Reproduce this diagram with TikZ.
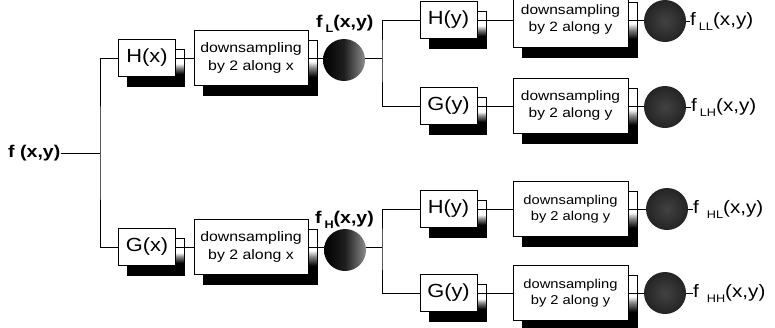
\documentclass[tikz,border=0pt]{standalone}
\usepackage{fontspec}
\setmainfont[FakeStretch=1.15]{Liberation Sans}
\usetikzlibrary{shadows}

% drop shadow: white on top, fading to black at the bottom
\pgfdeclareverticalshading{shadowfade}{100bp}{color(0bp)=(black); color(42bp)=(black); color(50bp)=(black!50); color(56bp)=(white); color(100bp)=(white)}

\newcommand\lowidx[1]{\raisebox{-0.32em}{\fontsize{11}{11}\selectfont #1}}

\tikzset{
  wire/.style={line width=0.8pt},
  block/.style={draw, line width=0.8pt, fill=white, inner sep=0pt, align=center,
    general shadow={shadow xshift=9pt, shadow yshift=-10pt, draw=black,
      line width=0.6pt, shade, shading=shadowfade}},
  filt/.style={block, minimum width=57pt, minimum height=37pt,
    font=\fontsize{19}{19}\selectfont},
  dsx/.style={block, minimum width=114pt, minimum height=55pt,
    font=\fontsize{13.8}{18}\selectfont},
  dsy/.style={block, minimum width=115pt, minimum height=55pt,
    font=\fontsize{13.5}{17}\selectfont},
  dsyb/.style={dsy, font=\fontsize{12.8}{16.5}\selectfont},
  lball/.style={circle, minimum size=42pt, inner sep=0pt,
    left color=black, right color=black!45, middle color=black!88},
  rball/.style={circle, minimum size=42pt, inner sep=0pt,
    inner color=black!74, outer color=black!86},
  flab/.style={inner sep=0pt, font=\fontsize{17}{17}\selectfont\bfseries},
  olab/.style={inner sep=0pt, font=\fontsize{18}{18}\selectfont},
}

\begin{document}
\begin{tikzpicture}[x=1pt,y=-1pt]
\useasboundingbox (0,0) rectangle (775,327);
\clip (0,0) rectangle (775,327);

% input
\node[flab, anchor=base west] (fin) at (8,157) {f (x,y)};
\coordinate (split) at (100,153);

% first stage: filtering along x
\node[filt] (Hx) at (147,58) {H(x)};
\node[filt] (Gx) at (147,247) {G(x)};
\node[dsx] (Dx1) at (251,58) {downsampling\\by 2 along x};
\node[dsx] (Dx2) at (251,247) {downsampling\\by 2 along x};
\node[lball] (cL) at (344,60) {};
\node[lball] (cH) at (345,250) {};
\node[flab, anchor=base west] (labL) at (316,27) {f\,\lowidx{L}(x,y)};
\node[flab, anchor=base west] (labH) at (315,223) {f\,\lowidx{H}(x,y)};
\coordinate (jL) at (382,58);
\coordinate (jH) at (382,247);

% second stage: filtering along y
\node[filt] (Hy1) at (448.5,20) {H(y)};
\node[filt] (Gy1) at (448.5,106) {G(y)};
\node[filt] (Hy2) at (448.5,209) {H(y)};
\node[filt] (Gy2) at (448.5,293) {G(y)};
\node[dsy] (Dy1) at (570.5,20) {downsampling\\by 2 along y};
\node[dsy] (Dy2) at (570.5,106) {downsampling\\by 2 along y};
\node[dsyb] (Dy3) at (570.5,209) {downsampling\\by 2 along y};
\node[dsyb] (Dy4) at (570.5,293) {downsampling\\by 2 along y};
\node[rball] (cLL) at (665,21) {};
\node[rball] (cLH) at (665,107) {};
\node[rball] (cHL) at (667,209) {};
\node[rball] (cHH) at (665,293) {};
\node[olab, anchor=base west] (labLL) at (690,25) {f\hspace{3pt}\lowidx{LL}(x,y)};
\node[olab, anchor=base west] (labLH) at (691,111) {f\hspace{3pt}\lowidx{LH}(x,y)};
\node[olab, anchor=base west] (labHL) at (693,213) {f\hspace{8pt}\lowidx{HL}(x,y)};
\node[olab, anchor=base west] (labHH) at (693,297) {f\hspace{8pt}\lowidx{HH}(x,y)};

% connectors
\draw[wire] (split -| fin.east) -- (split);
\draw[wire] (Hx.west) -| (split) |- (Gx.west);
\draw[wire] (Hx.east) -- (Dx1.west);
\draw[wire] (Gx.east) -- (Dx2.west);
\draw[wire] (Dx1.east) -- (Dx1.east -| cL.west);
\draw[wire] (Dx2.east) -- (Dx2.east -| cH.west);
\draw[wire] (cL.east |- jL) -- (jL);
\draw[wire] (cH.east |- jH) -- (jH);
\draw[wire] (Hy1.west) -| (jL) |- (Gy1.west);
\draw[wire] (Hy2.west) -| (jH) |- (Gy2.west);
\draw[wire] (Hy1.east) -- (Dy1.west);
\draw[wire] (Gy1.east) -- (Dy2.west);
\draw[wire] (Hy2.east) -- (Dy3.west);
\draw[wire] (Gy2.east) -- (Dy4.west);
\draw[wire] (Dy1.east) -- (Dy1.east -| cLL.west);
\draw[wire] (Dy2.east) -- (Dy2.east -| cLH.west);
\draw[wire] (Dy3.east) -- (Dy3.east -| cHL.west);
\draw[wire] (Dy4.east) -- (Dy4.east -| cHH.west);
\draw[wire] (cLL.east) -- (cLL.east -| labLL.west);
\draw[wire] (cLH.east) -- (cLH.east -| labLH.west);
\draw[wire] (cHL.east) -- (cHL.east -| labHL.west);
\draw[wire] (cHH.east) -- (cHH.east -| labHH.west);
\end{tikzpicture}
\end{document}
